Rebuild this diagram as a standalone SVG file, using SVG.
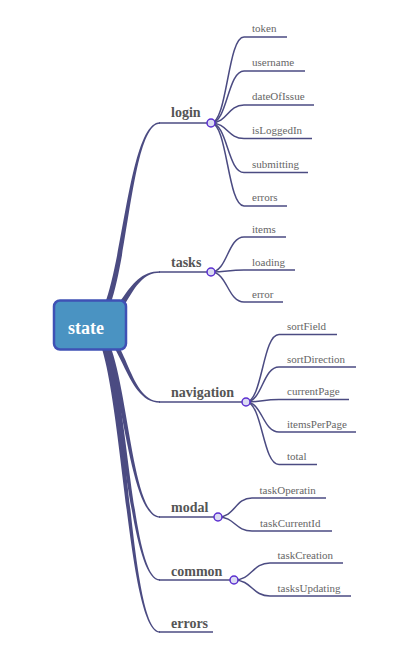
<svg xmlns="http://www.w3.org/2000/svg" width="414" height="668" viewBox="0 0 414 668">
<style>
.trunk{fill:#4b4b82;stroke:none}
.ln{fill:none;stroke:#4b4b82;stroke-width:1.5}
.dot{fill:#dcdcf3;stroke:#5b2fd0;stroke-width:1.5}
.main{font-family:"Liberation Serif","Times New Roman",serif;font-weight:bold;font-size:14px;fill:#555}
.leaf{font-family:"Liberation Serif","Times New Roman",serif;font-size:11px;fill:#666}
.root{fill:#4a93c2;stroke:#3f51b5;stroke-width:2.5}
.roottxt{font-family:"Liberation Serif","Times New Roman",serif;font-weight:bold;font-size:18px;fill:#fff}
</style>
<rect width="414" height="668" fill="#fff"/>
<g id="connectors">
<path class="trunk" d="M87,326 C122,326 123.5,122.3 160,122.3 L160,123.7 C126.5,123.7 128,326 93,326 Z"/>
<path class="trunk" d="M87,324 C122,324 123,271.2 160,271.2 L160,272.8 C127,272.8 128,328 93,328 Z"/>
<path class="trunk" d="M87,326 C122,326 123.5,402.7 160,402.7 L160,401.3 C126.5,401.3 128,326 93,326 Z"/>
<path class="trunk" d="M87,326 C122,326 123.5,517.7 160,517.7 L160,516.3 C126.5,516.3 128,326 93,326 Z"/>
<path class="trunk" d="M87,326 C122,326 123.5,580.7 160,580.7 L160,579.3 C126.5,579.3 128,326 93,326 Z"/>
<path class="trunk" d="M87,326 C122,326 123.5,632.7 160,632.7 L160,631.3 C126.5,631.3 128,326 93,326 Z"/>
<path class="ln" d="M159,123 H211"/>
<path class="ln" d="M159,272 H211"/>
<path class="ln" d="M159,402 H246"/>
<path class="ln" d="M159,517 H218"/>
<path class="ln" d="M159,580 H234"/>
<path class="ln" d="M159,632 H213"/>
<path class="ln" d="M211,123 C227.5,123 227.5,37 244,37 H287"/>
<path class="ln" d="M211,123 C227.5,123 227.5,71 244,71 H305"/>
<path class="ln" d="M211,123 C227.5,123 227.5,105 244,105 H314"/>
<path class="ln" d="M211,123 C227.5,123 227.5,138.5 244,138.5 H312"/>
<path class="ln" d="M211,123 C227.5,123 227.5,172.5 244,172.5 H308"/>
<path class="ln" d="M211,123 C227.5,123 227.5,206 244,206 H287"/>
<path class="ln" d="M211,272 C227.5,272 227.5,237 244,237 H286"/>
<path class="ln" d="M211,272 C227.5,272 227.5,270 244,270 H295"/>
<path class="ln" d="M211,272 C227.5,272 227.5,302 244,302 H283"/>
<path class="ln" d="M246,402 C262.5,402 262.5,334.5 279,334.5 H337"/>
<path class="ln" d="M246,402 C262.5,402 262.5,367 279,367 H356"/>
<path class="ln" d="M246,402 C262.5,402 262.5,399.5 279,399.5 H349"/>
<path class="ln" d="M246,402 C262.5,402 262.5,432 279,432 H356"/>
<path class="ln" d="M246,402 C262.5,402 262.5,464.5 279,464.5 H317"/>
<path class="ln" d="M218,517 C235,517 235,498 252,498 H326"/>
<path class="ln" d="M218,517 C235,517 235,531 252,531 H332"/>
<path class="ln" d="M234,580 C252,580 252,563 270,563 H343"/>
<path class="ln" d="M234,580 C252,580 252,596 270,596 H351"/>
</g>
<g id="state">
<rect class="root" x="54" y="300.5" width="72" height="49" rx="6"/>
<text class="roottxt" x="86" y="333.5" text-anchor="middle">state</text>
</g>
<g id="login">
<text class="main" x="171" y="117">login</text>
<circle class="dot" cx="211" cy="123" r="4"/>
</g>
<g id="login-token"><text class="leaf" x="252" y="32">token</text></g>
<g id="login-username"><text class="leaf" x="252" y="66">username</text></g>
<g id="login-dateOfIssue"><text class="leaf" x="252" y="100">dateOfIssue</text></g>
<g id="login-isLoggedIn"><text class="leaf" x="252" y="133.5">isLoggedIn</text></g>
<g id="login-submitting"><text class="leaf" x="252" y="167.5">submitting</text></g>
<g id="login-errors"><text class="leaf" x="252" y="201">errors</text></g>
<g id="tasks">
<text class="main" x="171" y="266.5">tasks</text>
<circle class="dot" cx="211" cy="272" r="4"/>
</g>
<g id="tasks-items"><text class="leaf" x="252" y="233">items</text></g>
<g id="tasks-loading"><text class="leaf" x="252" y="265.5">loading</text></g>
<g id="tasks-error"><text class="leaf" x="252" y="298">error</text></g>
<g id="navigation">
<text class="main" x="171" y="397">navigation</text>
<circle class="dot" cx="246" cy="402" r="4"/>
</g>
<g id="navigation-sortField"><text class="leaf" x="287" y="330">sortField</text></g>
<g id="navigation-sortDirection"><text class="leaf" x="287" y="362.5">sortDirection</text></g>
<g id="navigation-currentPage"><text class="leaf" x="287" y="395">currentPage</text></g>
<g id="navigation-itemsPerPage"><text class="leaf" x="287" y="427.5">itemsPerPage</text></g>
<g id="navigation-total"><text class="leaf" x="287" y="460">total</text></g>
<g id="modal">
<text class="main" x="171" y="511.5">modal</text>
<circle class="dot" cx="218" cy="517" r="4"/>
</g>
<g id="modal-taskOperatin"><text class="leaf" x="259.5" y="493.5">taskOperatin</text></g>
<g id="modal-taskCurrentId"><text class="leaf" x="260" y="526.5">taskCurrentId</text></g>
<g id="common">
<text class="main" x="171" y="575.5">common</text>
<circle class="dot" cx="234" cy="580" r="4"/>
</g>
<g id="common-taskCreation"><text class="leaf" x="277.5" y="558.5">taskCreation</text></g>
<g id="common-tasksUpdating"><text class="leaf" x="277.5" y="591.5">tasksUpdating</text></g>
<g id="errors">
<text class="main" x="171" y="627.5">errors</text>
</g>
</svg>
